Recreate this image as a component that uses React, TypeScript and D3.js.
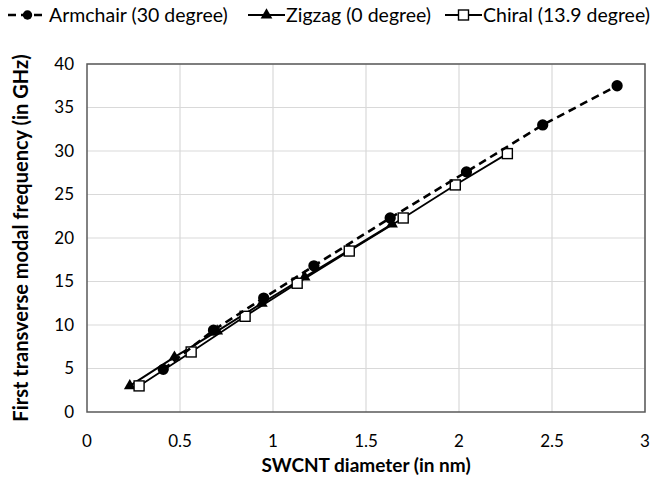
import React, { useEffect, useRef } from 'react';
import * as d3 from 'd3';

// Values
const armchairD = [0.41, 0.68, 0.95, 1.22, 1.63, 2.04, 2.45, 2.85];
const armchairF = [4.9, 9.4, 13.1, 16.8, 22.3, 27.6, 33.0, 37.5];

const zigzagD = [0.23, 0.47, 0.70, 0.94, 1.17, 1.41, 1.64];
const zigzagF = [3.0, 6.3, 9.3, 12.5, 15.5, 18.6, 21.6];

const chiralD = [0.28, 0.56, 0.85, 1.13, 1.41, 1.70, 1.98, 2.26];
const chiralF = [3.0, 6.9, 11.0, 14.8, 18.5, 22.3, 26.1, 29.7];

const xTicks = [0, 0.5, 1, 1.5, 2, 2.5, 3];
const yTicks = [0, 5, 10, 15, 20, 25, 30, 35, 40];

const seriesNames = ['Armchair (30 degree)', 'Zigzag (0 degree)', 'Chiral (13.9 degree)'];

const App = () => {
  const svgRef = useRef<SVGSVGElement>(null);

  useEffect(() => {
    const W = 654;
    const H = 477;
    const margin = { top: 64, right: 9, bottom: 65, left: 87 };
    const width = W - margin.left - margin.right;
    const height = H - margin.top - margin.bottom;
    const font = 'Lato, "Open Sans", sans-serif';

    const root = d3.select(svgRef.current);
    root.selectAll('*').remove();
    root.attr('width', W).attr('height', H);

    const svg = root.append('g').attr('transform', `translate(${margin.left},${margin.top})`);

    const x = d3.scaleLinear().domain([0, 3]).range([0, width]);
    const y = d3.scaleLinear().domain([0, 40]).range([height, 0]);

    // gridlines
    svg.append('g')
      .selectAll('line')
      .data(yTicks.slice(1))
      .enter()
      .append('line')
      .attr('x1', 0).attr('x2', width)
      .attr('y1', d => y(d)).attr('y2', d => y(d))
      .attr('stroke', '#d9d9d9').attr('stroke-width', 1.2);

    svg.append('g')
      .selectAll('line')
      .data(xTicks.slice(1))
      .enter()
      .append('line')
      .attr('y1', 0).attr('y2', height)
      .attr('x1', d => x(d)).attr('x2', d => x(d))
      .attr('stroke', '#d9d9d9').attr('stroke-width', 1.2);

    // plot border
    svg.append('rect')
      .attr('width', width).attr('height', height)
      .attr('fill', 'none').attr('stroke', '#595959').attr('stroke-width', 1.5);

    // tick labels
    svg.append('g')
      .selectAll('text')
      .data(yTicks)
      .enter()
      .append('text')
      .attr('x', -13)
      .attr('y', d => y(d))
      .attr('dy', '0.35em')
      .attr('text-anchor', 'end')
      .style('font-family', font).style('font-size', '17px').attr('fill', '#000')
      .text(d => d);

    svg.append('g')
      .selectAll('text')
      .data(xTicks)
      .enter()
      .append('text')
      .attr('x', d => x(d))
      .attr('y', height + 35)
      .attr('text-anchor', 'middle')
      .style('font-family', font).style('font-size', '17px').attr('fill', '#000')
      .text(d => d);

    // axis titles
    svg.append('text')
      .attr('x', width / 2)
      .attr('y', height + 60)
      .attr('text-anchor', 'middle')
      .style('font-family', font).style('font-size', '19px').style('font-weight', 'bold')
      .text('SWCNT diameter (in nm)');

    svg.append('text')
      .attr('transform', 'rotate(-90)')
      .attr('x', -height / 2)
      .attr('y', -59)
      .attr('text-anchor', 'middle')
      .style('font-family', font).style('font-size', '20px').style('font-weight', 'bold')
      .text('First transverse modal frequency (in GHz)');

    const line = d3.line<[number, number]>()
      .x(d => x(d[0]))
      .y(d => y(d[1]));

    const armchair = armchairD.map((d, i) => [d, armchairF[i]] as [number, number]);
    const zigzag = zigzagD.map((d, i) => [d, zigzagF[i]] as [number, number]);
    const chiral = chiralD.map((d, i) => [d, chiralF[i]] as [number, number]);

    const circle = d3.symbol().type(d3.symbolCircle).size(100);
    const tri = d3.symbol().type(d3.symbolTriangle).size(60);

    // Zigzag
    svg.append('path').datum(zigzag)
      .attr('d', line).attr('fill', 'none').attr('stroke', '#000').attr('stroke-width', 2);
    svg.selectAll('.tri')
      .data(zigzag).enter().append('path')
      .attr('transform', d => `translate(${x(d[0])},${y(d[1])})`)
      .attr('d', tri()).attr('fill', '#000');

    // Chiral
    svg.append('path').datum(chiral)
      .attr('d', line).attr('fill', 'none').attr('stroke', '#000').attr('stroke-width', 1.8);
    svg.selectAll('.sq')
      .data(chiral).enter().append('rect')
      .attr('x', d => x(d[0]) - 5).attr('y', d => y(d[1]) - 5)
      .attr('width', 10).attr('height', 10)
      .attr('fill', '#fff').attr('stroke', '#000').attr('stroke-width', 1.4);

    // Armchair
    svg.append('path').datum(armchair)
      .attr('d', line).attr('fill', 'none').attr('stroke', '#000').attr('stroke-width', 2.6)
      .attr('stroke-dasharray', '8,5');
    svg.selectAll('.circ')
      .data(armchair).enter().append('path')
      .attr('transform', d => `translate(${x(d[0])},${y(d[1])})`)
      .attr('d', circle()).attr('fill', '#000');

    // legend
    const leg = root.append('g');
    const legY = 15;
    const legX = [8, 248, 445];
    const textX = [49, 286, 483];

    leg.append('line').attr('x1', legX[0]).attr('x2', legX[0] + 39).attr('y1', legY).attr('y2', legY)
      .attr('stroke', '#000').attr('stroke-width', 2.6).attr('stroke-dasharray', '8,5');
    leg.append('path').attr('transform', `translate(${legX[0] + 19.5},${legY})`)
      .attr('d', d3.symbol().type(d3.symbolCircle).size(70)()).attr('fill', '#000');

    leg.append('line').attr('x1', legX[1]).attr('x2', legX[1] + 37).attr('y1', legY).attr('y2', legY)
      .attr('stroke', '#000').attr('stroke-width', 2);
    leg.append('path').attr('transform', `translate(${legX[1] + 18.5},${legY})`)
      .attr('d', tri()).attr('fill', '#000');

    leg.append('line').attr('x1', legX[2]).attr('x2', legX[2] + 37).attr('y1', legY).attr('y2', legY)
      .attr('stroke', '#000').attr('stroke-width', 1.8);
    leg.append('rect').attr('x', legX[2] + 13.5).attr('y', legY - 5).attr('width', 10).attr('height', 10)
      .attr('fill', '#fff').attr('stroke', '#000').attr('stroke-width', 1.4);

    leg.selectAll('text')
      .data(seriesNames).enter().append('text')
      .attr('x', (d, i) => textX[i])
      .attr('y', legY)
      .attr('dy', '0.35em')
      .style('font-family', font).style('font-size', '19.5px')
      .text(d => d);
  }, []);

  return (
    <svg ref={svgRef} style={{ position: 'absolute', left: 0, top: 0 }}></svg>
  );
};

export default App;
